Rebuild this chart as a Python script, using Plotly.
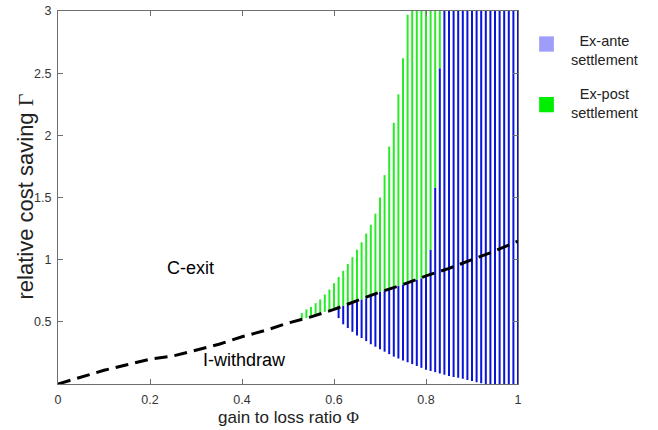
import plotly.graph_objects as go

# Boundary between C-exit and I-withdraw regions
boundary_phi = [0.0, 0.05, 0.10, 0.15, 0.20, 0.25, 0.30, 0.35, 0.40, 0.45, 0.50,
                0.55, 0.60, 0.65, 0.70, 0.75, 0.80, 0.85, 0.90, 0.95, 1.00]
boundary_gamma = [0.0, 0.055, 0.11, 0.155, 0.20, 0.225, 0.27, 0.32, 0.38, 0.43, 0.49,
                  0.54, 0.60, 0.67, 0.74, 0.80, 0.87, 0.93, 1.00, 1.07, 1.15]

# Ex-post settlement region: vertical segments per phi
green_phi = [0.53, 0.54, 0.55, 0.56, 0.57, 0.58, 0.59, 0.60, 0.61, 0.62, 0.63,
             0.64, 0.65, 0.66, 0.67, 0.68, 0.69, 0.70, 0.71, 0.72, 0.73, 0.74,
             0.75, 0.76, 0.77, 0.78, 0.79, 0.80, 0.81, 0.82, 0.83]
green_lo = [0.52, 0.53, 0.54, 0.55, 0.56, 0.58, 0.59, 0.60, 0.61, 0.63, 0.64,
            0.65, 0.67, 0.68, 0.69, 0.71, 0.72, 0.74, 0.75, 0.76, 0.77, 0.79,
            0.80, 0.81, 0.83, 0.84, 0.85, 0.87, 1.08, 1.58, 2.54]
green_hi = [0.57, 0.60, 0.62, 0.65, 0.68, 0.72, 0.76, 0.81, 0.86, 0.91, 0.965,
            1.02, 1.08, 1.14, 1.21, 1.28, 1.37, 1.50, 1.68, 1.91, 2.10, 2.33,
            2.62, 2.97, 3.0, 3.0, 3.0, 3.0, 3.0, 3.0, 3.0]

# Ex-ante settlement region: vertical segments per phi
blue_phi = [0.61, 0.62, 0.63, 0.64, 0.65, 0.66, 0.67, 0.68, 0.69, 0.70,
            0.71, 0.72, 0.73, 0.74, 0.75, 0.76, 0.77, 0.78, 0.79, 0.80,
            0.81, 0.82, 0.83, 0.84, 0.85, 0.86, 0.87, 0.88, 0.89, 0.90,
            0.91, 0.92, 0.93, 0.94, 0.95, 0.96, 0.97, 0.98, 0.99, 1.00]
blue_lo = [0.53, 0.48, 0.45, 0.42, 0.39, 0.37, 0.345, 0.32, 0.30, 0.28,
           0.26, 0.24, 0.22, 0.205, 0.19, 0.175, 0.16, 0.145, 0.13, 0.115,
           0.105, 0.095, 0.085, 0.075, 0.065, 0.057, 0.05, 0.042, 0.033, 0.025,
           0.015, 0.007, 0.0, 0.0, 0.0, 0.0, 0.0, 0.0, 0.0, 0.0]
blue_hi = [0.61, 0.63, 0.64, 0.65, 0.67, 0.68, 0.69, 0.71, 0.72, 0.74,
           0.75, 0.76, 0.77, 0.79, 0.80, 0.81, 0.83, 0.84, 0.85, 0.87,
           1.08, 1.58, 2.54, 3.0, 3.0, 3.0, 3.0, 3.0, 3.0, 3.0,
           3.0, 3.0, 3.0, 3.0, 3.0, 3.0, 3.0, 3.0, 3.0, 3.0]

x_ticks = [0, 0.2, 0.4, 0.6, 0.8, 1]
x_ticktext = ["0", "0.2", "0.4", "0.6", "0.8", "1"]
y_ticks = [0.5, 1, 1.5, 2, 2.5, 3]
y_ticktext = ["0.5", "1", "1.5", "2", "2.5", "3"]

legend_labels = ["Ex-ante<br>settlement", "Ex-post<br>settlement"]
legend_colors = ["rgb(158,158,250)", "rgb(0,238,0)"]
legend_box_y = [0.9115, 0.749]
legend_text_y = [0.893, 0.751]

BLUE = "rgb(10,20,214)"
GREEN = "rgb(40,236,40)"
FONT = "Liberation Sans, Arial, sans-serif"
SERIF = "Liberation Serif, DejaVu Serif, serif"


def segments(xs, lo, hi):
    sx, sy = [], []
    for x, a, b in zip(xs, lo, hi):
        sx += [x, x, None]
        sy += [a, b, None]
    return sx, sy


fig = go.Figure()

bx, by = segments(blue_phi, blue_lo, blue_hi)
fig.add_trace(go.Scatter(x=bx, y=by, mode="lines",
                         line=dict(color=BLUE, width=2),
                         showlegend=False, hoverinfo="skip"))

gx, gy = segments(green_phi, green_lo, green_hi)
fig.add_trace(go.Scatter(x=gx, y=gy, mode="lines",
                         line=dict(color=GREEN, width=2),
                         showlegend=False, hoverinfo="skip"))

fig.add_trace(go.Scatter(x=boundary_phi, y=boundary_gamma, mode="lines",
                         line=dict(color="black", width=3, dash="13px,7px"),
                         showlegend=False, hoverinfo="skip"))

axis_common = dict(showline=True, mirror="ticks", linecolor="#6e6e6e", linewidth=1,
                   ticks="inside", ticklen=5, tickcolor="#6e6e6e",
                   showgrid=False, zeroline=False, automargin=False,
                   tickfont=dict(family=FONT, size=12.5, color="#333333"))

fig.update_xaxes(range=[0, 1], tickvals=x_ticks, ticktext=x_ticktext,
                 ticklabelstandoff=4, **axis_common)
fig.update_yaxes(range=[0, 3], tickvals=y_ticks, ticktext=y_ticktext,
                 ticklabelstandoff=3, **axis_common)

# Axis titles
fig.add_annotation(xref="paper", yref="paper", x=0.5, y=-0.091,
                   text=f"gain to loss ratio <span style='font-family:{SERIF}'>Φ</span>",
                   showarrow=False, xanchor="center", yanchor="middle",
                   font=dict(family=FONT, size=17, color="#222222"))
fig.add_annotation(xref="paper", yref="paper", x=-0.0707, y=0.504,
                   text=f"relative cost saving <span style='font-family:{SERIF}'>Γ</span>",
                   showarrow=False, textangle=-90, xanchor="center", yanchor="middle",
                   font=dict(family=FONT, size=22, color="#222222"))

# Region labels
fig.add_annotation(x=0.287, y=0.93, text="C-exit", showarrow=False,
                   font=dict(family=FONT, size=18, color="black"))
fig.add_annotation(x=0.406, y=0.19, text="I-withdraw", showarrow=False,
                   font=dict(family=FONT, size=18, color="black"))

# Legend drawn beside the axes
for lab, col, by_, ty in zip(legend_labels, legend_colors, legend_box_y, legend_text_y):
    fig.add_shape(type="rect", xref="paper", yref="paper",
                  x0=1.046, x1=1.078, y0=by_ - 0.0205, y1=by_ + 0.0205,
                  fillcolor=col, line=dict(width=0))
    fig.add_annotation(xref="paper", yref="paper", x=1.189, y=ty, text=lab,
                       showarrow=False, align="center", xanchor="center", yanchor="middle",
                       font=dict(family=FONT, size=14.5, color="#222222"))

fig.update_layout(width=658, height=430,
                  margin=dict(l=58, r=140, t=11, b=46),
                  paper_bgcolor="white", plot_bgcolor="white")

fig.write_html("out.html")
